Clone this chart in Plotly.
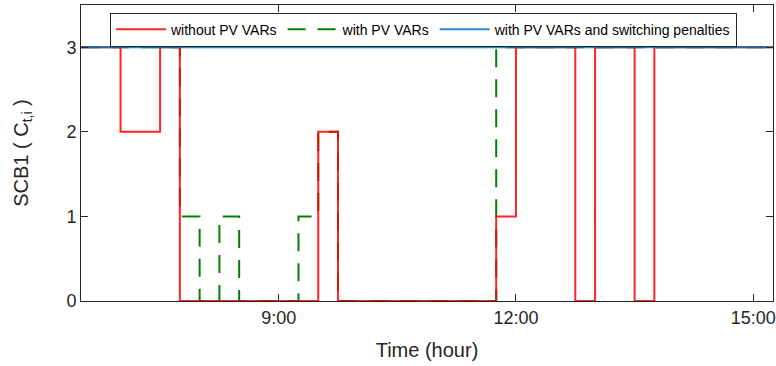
import plotly.graph_objects as go

# Step data (time in hours, value = capacitor bank setting)
red_time = [6.5, 7.0, 7.5, 7.75, 9.5, 9.75, 11.75, 12.0, 12.75, 13.0, 13.5, 13.75, 15.25]
red_vals = [3, 2, 3, 0, 2, 0, 1, 3, 0, 3, 0, 3, 3]

green_time = [6.5, 7.75, 8.0, 8.25, 8.5, 9.25, 9.5, 9.75, 11.75, 15.25]
green_vals = [3, 1, 0, 1, 0, 1, 2, 0, 3, 3]

blue_time = [6.5, 15.25]
blue_vals = [3, 3]

x_tickvals = [9, 12, 15]
x_ticktext = ["9:00", "12:00", "15:00"]
y_tickvals = [0, 1, 2, 3]

names = ["without PV VARs", "with PV VARs", "with PV VARs and switching penalties"]

FONT = "Liberation Sans, Arial, sans-serif"
AX = "#262626"

fig = go.Figure()
fig.add_trace(go.Scatter(x=green_time, y=green_vals, mode="lines", line_shape="hv",
                         name=names[1], legendrank=2,
                         line=dict(color="#008000", width=2, dash="18px,12px")))
fig.add_trace(go.Scatter(x=red_time, y=red_vals, mode="lines", line_shape="hv",
                         name=names[0], legendrank=1, opacity=0.85,
                         line=dict(color="#FF0000", width=2)))
fig.add_trace(go.Scatter(x=blue_time, y=blue_vals, mode="lines", line_shape="hv",
                         name=names[2], legendrank=3, opacity=0.85,
                         line=dict(color="#0072BD", width=2)))

fig.update_layout(
    width=776, height=366,
    margin=dict(l=81, r=3, t=5, b=65, autoexpand=False),
    paper_bgcolor="white", plot_bgcolor="white",
    font=dict(family=FONT, color=AX),
    showlegend=True,
    legend=dict(orientation="h", x=0.0419, y=0.974, xanchor="left", yanchor="top",
                bgcolor="white", bordercolor=AX, borderwidth=1,
                font=dict(size=14, color="black"), itemwidth=50,
                tracegroupgap=0),
)
fig.update_xaxes(range=[6.5, 15.25], tickvals=x_tickvals, ticktext=x_ticktext,
                 ticks="inside", ticklen=7, tickcolor=AX, mirror="ticks", automargin=False,
                 showline=True, linecolor=AX, linewidth=1, showgrid=False, zeroline=False,
                 tickfont=dict(size=18, color=AX),
                 title=dict(text="Time (hour)", font=dict(size=20, color=AX), standoff=16))
fig.update_yaxes(range=[0, 3.5], tickvals=y_tickvals,
                 ticks="inside", ticklen=7, tickcolor=AX, mirror="ticks", automargin=False,
                 showline=True, linecolor=AX, linewidth=1, showgrid=False, zeroline=False,
                 tickfont=dict(size=18, color=AX),
                 title=dict(text="SCB1 ( C<sub>t,i</sub> )", font=dict(size=20, color=AX), standoff=32))

fig.write_html("out.html", config={"displayModeBar": False},
               post_script="document.body.style.margin='0';document.body.style.padding='0';")
